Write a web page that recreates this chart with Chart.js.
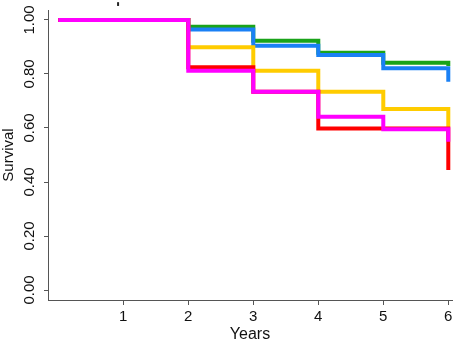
<!DOCTYPE html>
<html>
<head>
<meta charset="utf-8">
<script src="https://cdn.jsdelivr.net/npm/chart.js@4"></script>
<style>
  html, body { margin: 0; padding: 0; background: #fff; }
  #wrap { width: 459px; height: 344px; }
</style>
</head>
<body>
<div id="wrap"><canvas id="myChart"></canvas></div>
<script>
const years = [0, 2, 3, 4, 5, 6];
const green = [1.00, 0.975, 0.923, 0.879, 0.842, 0.830];
const blue = [1.00, 0.965, 0.905, 0.870, 0.821, 0.771];
const yellow = [1.00, 0.899, 0.812, 0.734, 0.670, 0.605];
const red = [1.00, 0.825, 0.734, 0.598, 0.598, 0.444];
const magenta = [1.00, 0.812, 0.734, 0.642, 0.595, 0.549];
const xTicks = [1, 2, 3, 4, 5, 6];
const yTicks = [0, 0.2, 0.4, 0.6, 0.8, 1.0];
// small stray mark above the plot (x, y from, y to)
const markX = 0.92;
const markY = [1.052, 1.066];

const pts = vals => years.map((x, i) => ({ x: x, y: vals[i] }));
// lower order is drawn on top
const line = (label, vals, color, order) => ({
    label: label,
    data: pts(vals),
    order: order,
    showLine: true,
    borderColor: color,
    backgroundColor: color,
    borderWidth: 4,
    stepped: true,
    pointRadius: 0,
    fill: false
});

const ctx = document.getElementById('myChart').getContext('2d');
const myChart = new Chart(ctx, {
    type: 'scatter',
    data: {
        datasets: [
            line('Green', green, '#1aa31a', 5),
            line('Blue', blue, '#1a80f5', 4),
            line('Yellow', yellow, '#ffcc00', 3),
            line('Red', red, '#ff0000', 2),
            line('Magenta', magenta, '#ff00ff', 1),
            {
                label: 'mark',
                data: markY.map(y => ({ x: markX, y: y })),
                order: 0,
                showLine: true,
                borderWidth: 2,
                borderColor: '#222',
                pointRadius: 0,
                clip: false
            }
        ]
    },
    options: {
        responsive: true,
        maintainAspectRatio: false,
        animation: false,
        layout: { padding: { top: 10, right: 7, left: 0, bottom: 0 } },
        scales: {
            x: {
                type: 'linear',
                min: -0.158,
                max: 6.057,
                afterBuildTicks: s => { s.ticks = xTicks.map(v => ({ value: v })); },
                afterFit: s => { s.height = 44; },
                grid: { drawOnChartArea: false, tickLength: 5, color: '#555' },
                border: { color: '#555', width: 1 },
                ticks: { color: '#111', font: { family: 'Liberation Sans', size: 15 }, padding: 3 },
                title: { display: true, text: 'Years', color: '#111', font: { family: 'Liberation Sans', size: 16 }, padding: 0 }
            },
            y: {
                min: -0.037,
                max: 1.037,
                afterBuildTicks: s => { s.ticks = yTicks.map(v => ({ value: v })); },
                afterFit: s => { s.width = 48; },
                grid: { drawOnChartArea: false, tickLength: 4, color: '#555' },
                border: { color: '#555', width: 1 },
                ticks: {
                    color: '#111',
                    font: { family: 'Liberation Sans', size: 15 },
                    minRotation: 90,
                    maxRotation: 90,
                    crossAlign: 'center',
                    padding: 0,
                    callback: v => v.toFixed(2)
                },
                title: { display: true, text: 'Survival', color: '#111', font: { family: 'Liberation Sans', size: 15 }, padding: 0 }
            }
        },
        plugins: {
            legend: { display: false },
            tooltip: { enabled: false }
        }
    }
});
</script>
</body>
</html>
